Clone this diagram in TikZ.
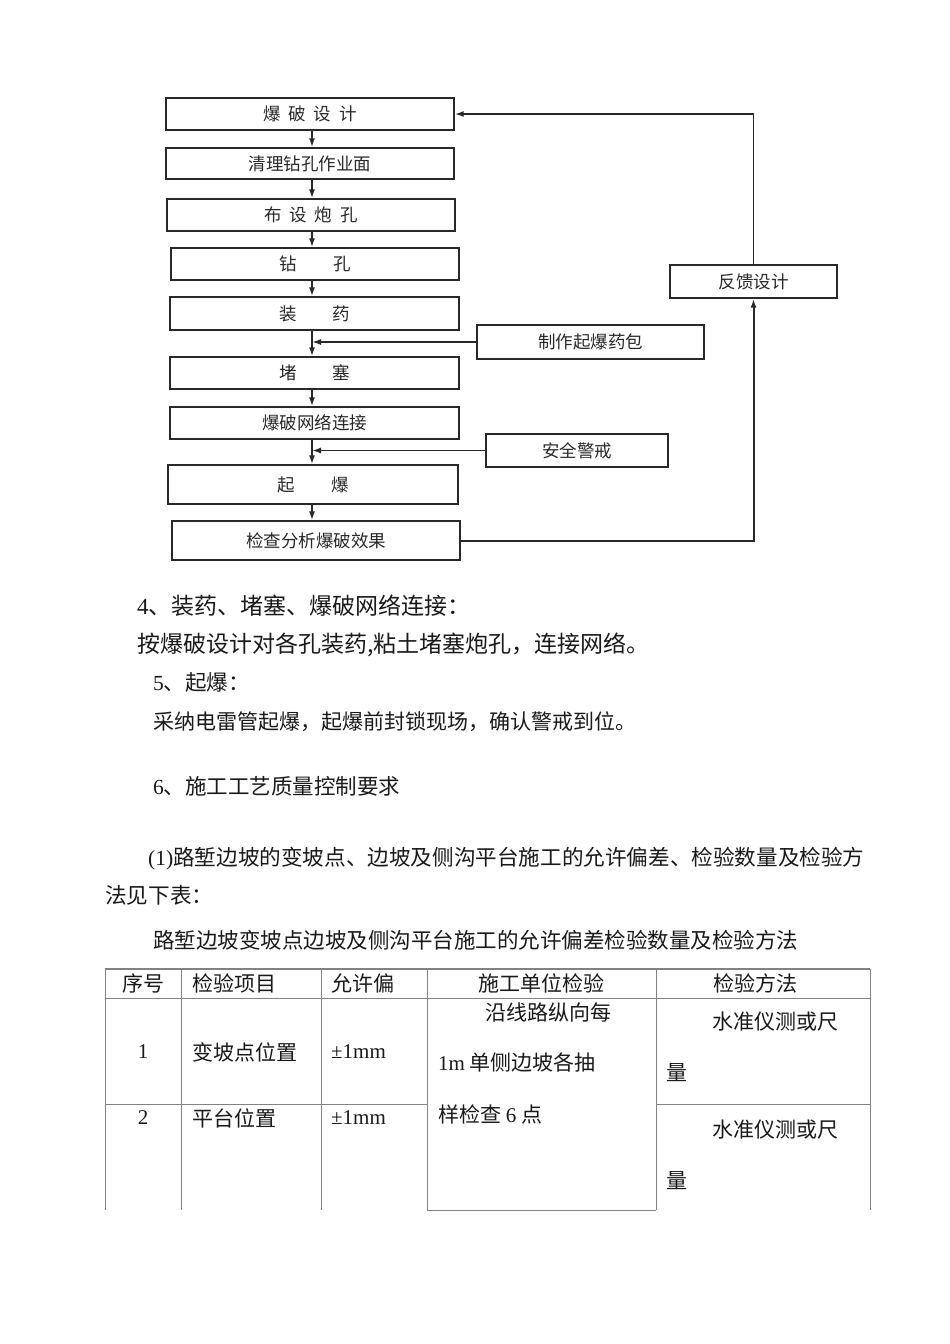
\documentclass[tikz,border=0pt]{standalone}
\usepackage{fontspec}
\setmainfont{Noto Sans CJK SC}
\newfontfamily\latfont{Liberation Serif}
\usetikzlibrary{arrows.meta, positioning}
\definecolor{inkgray}{RGB}{40,40,40}
\definecolor{rulegray}{RGB}{130,130,130}

\tikzset{
  flowbox/.style={draw=inkgray, line width=1.4pt, inner sep=0pt, text=inkgray,
    font=\fontsize{17.5}{20}\selectfont},
  flowarrow/.style={-{Latex[length=9pt,width=6pt]}, line width=1.6pt, inkgray},
  bodytext/.style={anchor=west, inner sep=0pt, text=black!90,
    font=\fontsize{21.5}{25}\selectfont},
  bigtext/.style={bodytext, font=\fontsize{23}{27}\selectfont},
  cell/.style={anchor=west, inner sep=0pt, text=black!90,
    font=\fontsize{21}{25}\selectfont},
  tabline/.style={rulegray, line width=0.8pt},
}
\newcommand{\gap}{\hspace{8pt}}
\newcommand{\wgap}{\hspace{36pt}}

\begin{document}
\begin{tikzpicture}[x=1pt, y=-1pt]
  \useasboundingbox (0,0) rectangle (950,1344);

  % 主流程
  \node[flowbox, minimum width=288pt, minimum height=32pt] (design) at (310,114) {爆\gap 破\gap 设\gap 计};
  \node[flowbox, minimum width=288pt, minimum height=31pt] (clean) at (310,163.5) {清理钻孔作业面};
  \node[flowbox, minimum width=288pt, minimum height=32pt] (layout) at (311,215) {布\gap 设\gap 炮\gap 孔};
  \node[flowbox, minimum width=288pt, minimum height=32pt] (drill) at (315,264) {钻\wgap 孔};
  \node[flowbox, minimum width=289pt, minimum height=33pt] (load) at (314.5,313.5) {装\wgap 药};
  \node[flowbox, minimum width=289pt, minimum height=32pt] (stem) at (314.5,373) {堵\wgap 塞};
  \node[flowbox, minimum width=289pt, minimum height=32pt] (network) at (314.5,423) {爆破网络连接};
  \node[flowbox, minimum width=290pt, minimum height=39pt] (fire) at (313,484.5) {起\wgap 爆};
  \node[flowbox, minimum width=288pt, minimum height=39pt] (check) at (316,540.5) {检查分析爆破效果};

  % 旁支
  \node[flowbox, minimum width=227pt, minimum height=34pt] (primer) at (590.5,342) {制作起爆药包};
  \node[flowbox, minimum width=182pt, minimum height=33pt] (guard) at (577,450.5) {安全警戒};
  \node[flowbox, minimum width=167pt, minimum height=33pt] (feedback) at (753.5,281.5) {反馈设计};

  \coordinate (spine) at (312,0);
  \draw[flowarrow] (design.south -| spine) -- (clean.north -| spine);
  \draw[flowarrow] (clean.south -| spine) -- (layout.north -| spine);
  \draw[flowarrow] (layout.south -| spine) -- (drill.north -| spine);
  \draw[flowarrow] (drill.south -| spine) -- (load.north -| spine);
  \draw[flowarrow] (load.south -| spine) -- (stem.north -| spine);
  \draw[flowarrow] (stem.south -| spine) -- (network.north -| spine);
  \draw[flowarrow] (network.south -| spine) -- (fire.north -| spine);
  \draw[flowarrow] (fire.south -| spine) -- (check.north -| spine);
  \draw[flowarrow] (primer.west) -- (primer.west -| spine);
  \draw[flowarrow] (guard.west) -- (guard.west -| spine);

  % 反馈回路
  \draw[flowarrow, line width=2pt] (check.east) -| (feedback.south);
  \draw[flowarrow, line width=1.7pt] (feedback.north) |- (design.east);

  % 正文
  \node[bigtext] (t4) at (137,606) {{\latfont 4}、装药、堵塞、爆破网络连接：};
  \node[bigtext] (t4b) at (137,645) {按爆破设计对各孔装药,粘土堵塞炮孔，连接网络。};
  \node[bodytext] (t5) at (153,682) {{\latfont 5}、起爆：};
  \node[bodytext, font=\fontsize{21}{25}\selectfont] (t5b) at (153,722) {采纳电雷管起爆，起爆前封锁现场，确认警戒到位。};
  \node[bodytext] (t6) at (153,786) {{\latfont 6}、施工工艺质量控制要求};
  \node[bodytext, font=\fontsize{21.6}{26}\selectfont] (t61) at (148,859) {{\latfont (1)}路堑边坡的变坡点、边坡及侧沟平台施工的允许偏差、检验数量及检验方};
  \node[bodytext, font=\fontsize{21.6}{26}\selectfont] (t61b) at (105,895) {法见下表：};
  \node[bodytext] (title) at (153,940) {路堑边坡变坡点边坡及侧沟平台施工的允许偏差检验数量及检验方法};

  % 表格
  \draw[tabline, line width=1.2pt] (105,969) -- (870,969);
  \draw[tabline] (105,998) -- (870,998);
  \draw[tabline] (105,1104) -- (427,1104);
  \draw[tabline] (656,1104) -- (870,1104);
  \draw[tabline] (427,1210) -- (656,1210);
  \foreach \cx in {105,181,321,427,656,870}
    \draw[tabline] (\cx,969) -- (\cx,1210);

  \node[cell, anchor=center] (h1) at (143,983) {序号};
  \node[cell] (h2) at (192,983) {检验项目};
  \node[cell] (h3) at (331,983) {允许偏};
  \node[cell, anchor=center] (h4) at (541,983) {施工单位检验};
  \node[cell, anchor=center] (h5) at (755,983) {检验方法};

  \node[cell, anchor=center] (r1a) at (143,1052) {\latfont 1};
  \node[cell] (r1b) at (192,1052) {变坡点位置};
  \node[cell] (r1c) at (331,1052) {\latfont ±1mm};
  \node[cell] (r1d) at (485,1012) {沿线路纵向每};
  \node[cell] (r1e) at (438,1062) {{\latfont 1m} 单侧边坡各抽};
  \node[cell] (r1f) at (438,1114) {样检查 {\latfont 6} 点};
  \node[cell] (r1g) at (712,1022) {水准仪测或尺};
  \node[cell] (r1h) at (666,1073) {量};

  \node[cell, anchor=center] (r2a) at (143,1118) {\latfont 2};
  \node[cell] (r2b) at (192,1118) {平台位置};
  \node[cell] (r2c) at (331,1118) {\latfont ±1mm};
  \node[cell] (r2g) at (712,1130) {水准仪测或尺};
  \node[cell] (r2h) at (666,1181) {量};
\end{tikzpicture}
\end{document}
